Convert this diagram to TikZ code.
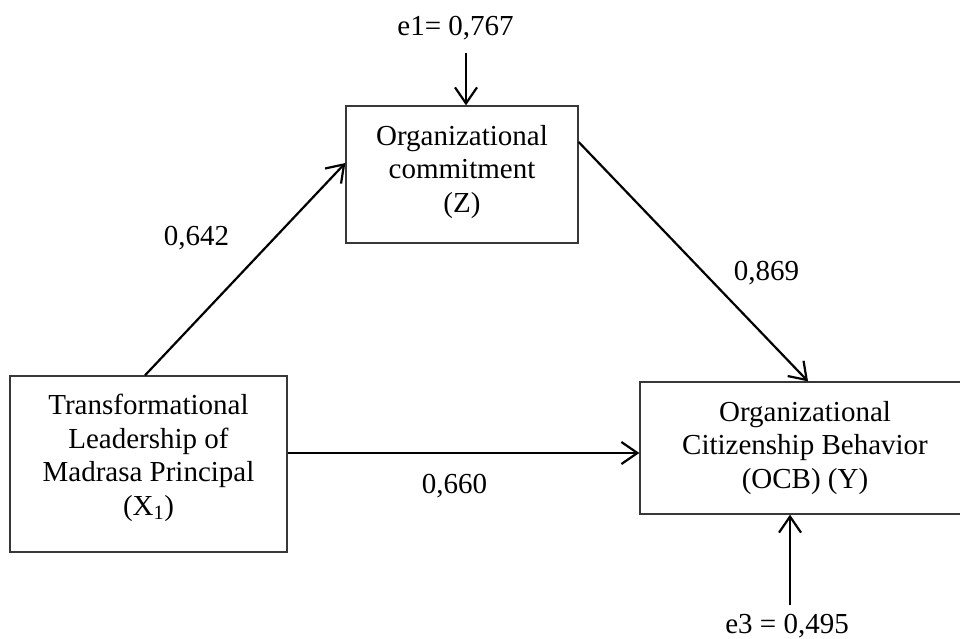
\documentclass[tikz,border=0pt]{standalone}
\usepackage{fontspec}
\setmainfont{Liberation Serif}
\usetikzlibrary{arrows.meta}
\begin{document}
\begin{tikzpicture}[x=1pt,y=-1pt,
  box/.style={draw=black!78, line width=1.3pt, rectangle, inner sep=0pt},
  txt/.style={align=center, inner sep=0pt, anchor=base, font=\fontsize{29}{33.5}\selectfont},
  lbl/.style={inner sep=0pt, anchor=base, font=\fontsize{29}{33.5}\selectfont},
  arr/.style={line width=2.2pt, -{Straight Barb[length=16pt,width=22pt]}}]
\useasboundingbox (0,0) rectangle (960,639);
\clip (0,0) rectangle (960,639);
% boxes
\node[box, minimum width=232pt, minimum height=137pt] (Z) at (462,174.5) {};
\node[box, minimum width=277pt, minimum height=176pt] (X) at (148.5,464) {};
\node[box, minimum width=330pt, minimum height=132pt] (Y) at (805,448) {};
% box texts (base = last line baseline)
\node[txt] (Zt) at (462,212) {Organizational\\commitment\\(Z)};
\node[txt] (Xt) at (148.5,515) {Transformational\\Leadership of\\Madrasa Principal\\(X\textsubscript{1})};
\node[txt] (Yt) at (805,488) {Organizational\\Citizenship Behavior\\(OCB) (Y)};
% error terms
\node[lbl] (e1) at (455.5,36) {e1= 0,767};
\coordinate (e1s) at (466,53);
\node[lbl] (e3) at (787,633) {e3 = 0,495};
\coordinate (e3s) at (790,605);
% connectors
\draw[arr] (e1s) -- (e1s |- Z.north);
\draw[arr] (e3s) -- (e3s |- Y.south);
\draw[arr] ([xshift=-3.5pt]X.north) -- ([yshift=11.5pt]Z.west);
\draw[arr] ([yshift=32.5pt]Z.east) -- ([xshift=3pt]Y.north);
\coordinate (Xr) at ([yshift=11pt]X.east);
\draw[arr] (Xr) -- (Xr -| Y.west);
% path coefficients
\node[lbl] (c1) at (196.5,245) {0,642};
\node[lbl] (c2) at (766.5,280) {0,869};
\node[lbl] (c3) at (454.5,493) {0,660};
\end{tikzpicture}
\end{document}
